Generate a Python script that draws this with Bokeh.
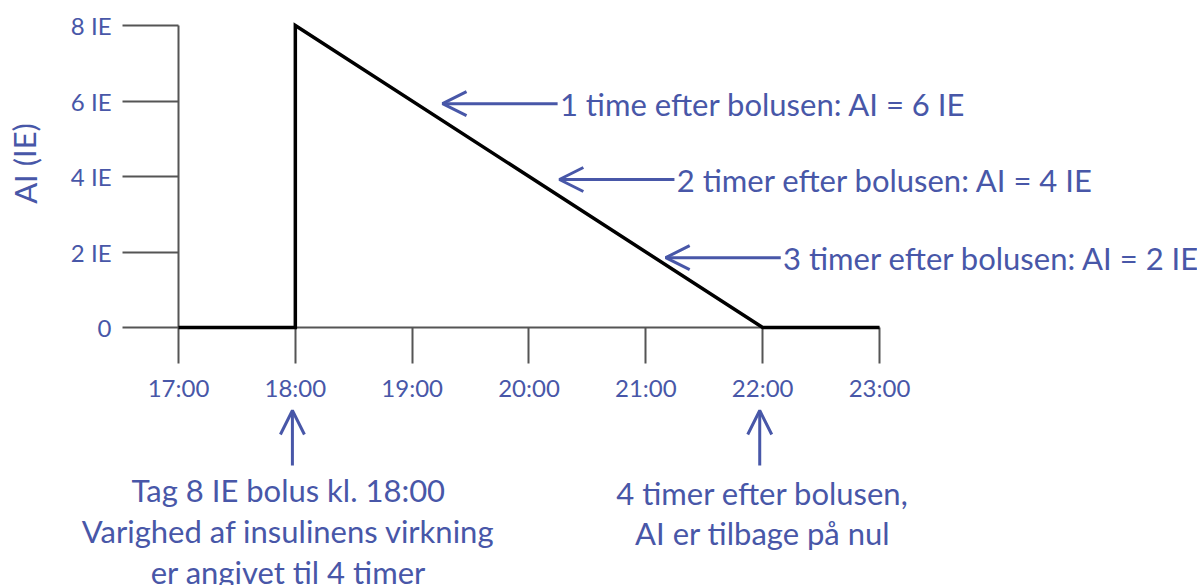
from bokeh.plotting import figure
from bokeh.models import (Range1d, FixedTicker, Label, Arrow, OpenHead)
from bokeh.embed import file_html
from bokeh.resources import INLINE

# ---- data ----
time_h = [17, 18, 18, 22, 23]
ai_ie = [0, 0, 8, 0, 0]
y_ticks = [0, 2, 4, 6, 8]
y_tick_labels = ["0", "2 IE", "4 IE", "6 IE", "8 IE"]
x_ticks = [17, 18, 19, 20, 21, 22, 23]
x_tick_labels = ["17:00", "18:00", "19:00", "20:00", "21:00", "22:00", "23:00"]
callout_ai = [6, 4, 2]
callout_texts = [
    "1 time efter bolusen: AI = 6 IE",
    "2 timer efter bolusen: AI = 4 IE",
    "3 timer efter bolusen: AI = 2 IE",
]
bolus_time = 18
end_time = 22
bolus_lines = ["Tag 8 IE bolus kl. 18:00",
               "Varighed af insulinens virkning",
               "er angivet til 4 timer"]
end_lines = ["4 timer efter bolusen,", "AI er tilbage på nul"]

BLUE = "#4857a8"
GREY = "#555555"
FONT = "Lato"

W, H = 1197, 585
PX_H = 116.83      # pixels per hour
PX_U = 37.75       # pixels per IE
X0_PX, Y0_PX = 178, 327   # canvas position of (17:00, 0)

x_lo = 17 - X0_PX / PX_H
x_hi = 17 + (W - X0_PX) / PX_H
y_hi = Y0_PX / PX_U
y_lo = -(H - Y0_PX) / PX_U


def ys(py):
    """screen y (px from top) -> data y"""
    return (Y0_PX - py) / PX_U


p = figure(frame_width=W, frame_height=H,
           min_border=0,
           x_range=Range1d(x_lo, x_hi), y_range=Range1d(y_lo, y_hi),
           output_backend="svg", toolbar_location=None, tools="")
p.outline_line_color = None
p.grid.visible = False
p.background_fill_color = "white"
p.border_fill_color = "white"

p.line(time_h, ai_ie, line_color="black", line_width=3.5, line_join="miter",
       level="overlay")

# axes (kept in side panels, drawn at fixed data locations)
xa = p.xaxis[0]
xa.fixed_location = 0
xa.ticker = FixedTicker(ticks=x_ticks)
xa.major_label_overrides = dict(zip(x_ticks, x_tick_labels))
xa.bounds = (17, 23)
xa.major_tick_out = 36
xa.major_tick_in = 0
xa.minor_tick_out = 0
xa.minor_tick_in = 0
xa.major_label_standoff = 9

ya = p.yaxis[0]
ya.fixed_location = 17
ya.ticker = FixedTicker(ticks=y_ticks)
ya.major_label_overrides = dict(zip(y_ticks, y_tick_labels))
ya.bounds = (0, 8)
ya.major_tick_out = 56
ya.major_tick_in = 0
ya.minor_tick_out = 0
ya.minor_tick_in = 0
ya.major_label_standoff = 11

for ax in (xa, ya):
    ax.axis_line_color = GREY
    ax.axis_line_width = 2
    ax.major_tick_line_color = GREY
    ax.major_tick_line_width = 2
    ax.major_label_text_font = FONT
    ax.major_label_text_font_size = "24px"
    ax.major_label_text_color = BLUE

# y axis title
p.add_layout(Label(x=x_lo + 24 / PX_H, y=ys(163), text="AI (IE)",
                   angle=1.5708, text_align="center", text_baseline="middle",
                   text_color=BLUE, text_font=FONT, text_font_size="31px"))

# callouts on the right
head_dx = [0.26, 0.26, 0.17]
arrow_dy = [-0.07, -0.08, -0.15]
for v, t, dx, dy in zip(callout_ai, callout_texts, head_dx, arrow_dy):
    x_line = end_time - v / 2.0
    hx = x_line + dx
    tx = hx + 0.985
    p.add_layout(Arrow(x_start=tx, y_start=v + dy, x_end=hx, y_end=v + dy,
                       line_color=BLUE, line_width=3,
                       end=OpenHead(size=24, line_color=BLUE, line_width=3)))
    p.add_layout(Label(x=tx + 0.02, y=v + dy, text=t, text_align="left",
                       text_baseline="middle", text_color=BLUE,
                       text_font=FONT, text_font_size="31px"))

# bottom up-arrows and texts
for xt in (bolus_time, end_time):
    p.add_layout(Arrow(x_start=xt - 0.025, y_start=ys(465), x_end=xt - 0.025, y_end=ys(410),
                       line_color=BLUE, line_width=3,
                       end=OpenHead(size=24, line_color=BLUE, line_width=3)))

left_mid = [489, 530, 571]
right_mid = [492, 532]
for line, py in zip(bolus_lines, left_mid):
    p.add_layout(Label(x=bolus_time - 0.06, y=ys(py), text=line, text_align="center",
                       text_baseline="middle", text_color=BLUE,
                       text_font=FONT, text_font_size="31px"))
for line, py in zip(end_lines, right_mid):
    p.add_layout(Label(x=end_time, y=ys(py), text=line, text_align="center",
                       text_baseline="middle", text_color=BLUE,
                       text_font=FONT, text_font_size="31px"))

open("out.html", "w").write(file_html(p, INLINE))
